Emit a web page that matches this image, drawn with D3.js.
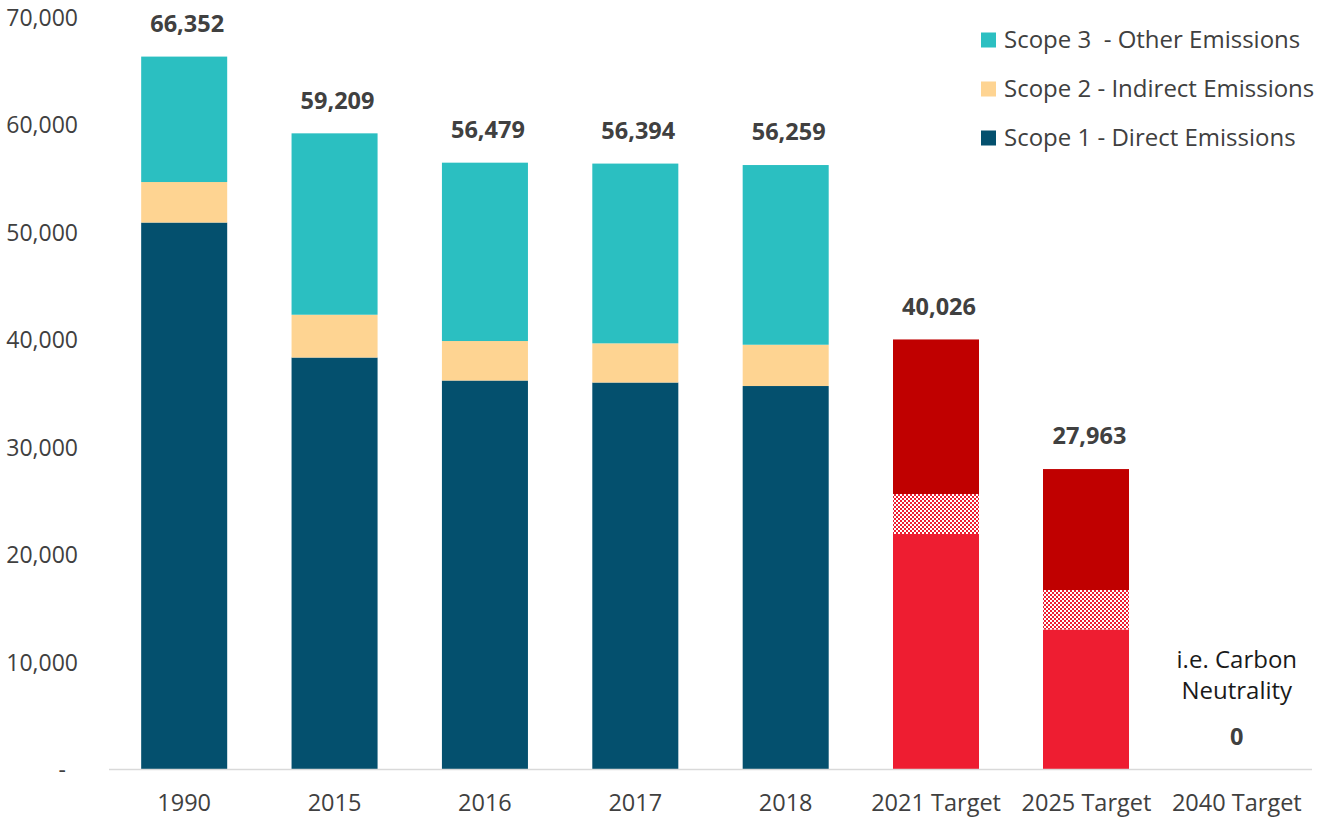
<!DOCTYPE html>
<html>
<head>
<meta charset="utf-8">
<script src="https://cdn.jsdelivr.net/npm/d3@7"></script>
<style>
  html, body { margin: 0; padding: 0; background: #ffffff; }
  svg { display: block; }
  text { font-family: "Open Sans", "Noto Sans", sans-serif; }
</style>
</head>
<body>
<svg id="chart" width="1321" height="819"></svg>
<script>
// ---------- data ----------
const categories = ["1990", "2015", "2016", "2017", "2018", "2021 Target", "2025 Target", "2040 Target"];
const actualCategories = ["1990", "2015", "2016", "2017", "2018"];
const scope1 = [50907, 38343, 36203, 36017, 35691];
const scope2 = [3770, 3984, 3676, 3648, 3844];
const scope3 = [11675, 16882, 16600, 16729, 16724];

const targetCategories = ["2021 Target", "2025 Target", "2040 Target"];
const targetBase = [21917, 13029, 0];
const targetHatched = [3723, 3676, 0];
const targetTop = [14386, 11258, 0];

const totals = [66352, 59209, 56479, 56394, 56259, 40026, 27963, 0];
const totalLabels = ["66,352", "59,209", "56,479", "56,394", "56,259", "40,026", "27,963", "0"];

const yTicks = [0, 10000, 20000, 30000, 40000, 50000, 60000, 70000];
const legendLabels = ["Scope 3  - Other Emissions", "Scope 2 - Indirect Emissions", "Scope 1 - Direct Emissions"];
const noteLines = ["i.e. Carbon", "Neutrality"];

// ---------- styles ----------
const colors = {
  scope1: "#04506e",
  scope2: "#fed492",
  scope3: "#2bbfc1",
  base: "#ee1d31",
  top: "#c00000",
  text: "#404040",
  axis: "#d9d9d9"
};

const svg = d3.select("#chart");

const x = d3.scaleBand()
  .domain(categories)
  .range([109, 1312])
  .paddingInner(0.428)
  .paddingOuter(0.214);

const y = d3.scaleLinear()
  .domain([0, 70000])
  .range([769.5, 17.4]);

// checker pattern
const defs = svg.append("defs");
const pat = defs.append("pattern")
  .attr("id", "checker")
  .attr("patternUnits", "userSpaceOnUse")
  .attr("width", 4).attr("height", 4);
pat.append("rect").attr("width", 4).attr("height", 4).attr("fill", "#ffffff");
pat.append("rect").attr("x", 0).attr("y", 0).attr("width", 2).attr("height", 2).attr("fill", colors.base);
pat.append("rect").attr("x", 2).attr("y", 2).attr("width", 2).attr("height", 2).attr("fill", colors.base);

// y axis labels
const yAxis = d3.axisLeft(y)
  .tickValues(yTicks)
  .tickSize(0)
  .tickPadding(0)
  .tickFormat(v => v === 0 ? "-" : d3.format(",")(v));
const yg = svg.append("g").attr("transform", "translate(78,0)").call(yAxis);
yg.select(".domain").remove();
yg.selectAll("text")
  .attr("fill", colors.text)
  .style("font-size", "23px")
  .attr("dy", "0.35em")
  .attr("dx", v => v === 0 ? -12 : 0);

// stacked actual bars
const actualStack = actualCategories.map((c, i) => ({ c, s1: scope1[i], s2: scope2[i], s3: scope3[i] }));
const stackA = d3.stack().keys(["s1", "s2", "s3"])(actualStack);
const keyColor = { s1: colors.scope1, s2: colors.scope2, s3: colors.scope3 };
svg.append("g").selectAll("g").data(stackA).join("g")
  .attr("fill", d => keyColor[d.key])
  .selectAll("rect").data(d => d).join("rect")
  .attr("x", d => x(d.data.c))
  .attr("width", x.bandwidth())
  .attr("y", d => y(d[1]))
  .attr("height", d => y(d[0]) - y(d[1]));

// stacked target bars
const targetStack = targetCategories.map((c, i) => ({ c, b: targetBase[i], h: targetHatched[i], t: targetTop[i] }));
const stackT = d3.stack().keys(["b", "h", "t"])(targetStack);
const keyFill = { b: colors.base, h: "url(#checker)", t: colors.top };
svg.append("g").selectAll("g").data(stackT).join("g")
  .attr("fill", d => keyFill[d.key])
  .selectAll("rect").data(d => d.filter(p => p[1] > p[0])).join("rect")
  .attr("x", d => Math.round(x(d.data.c)))
  .attr("width", Math.round(x.bandwidth()))
  .attr("y", d => y(d[1]))
  .attr("height", d => y(d[0]) - y(d[1]));

// baseline
svg.append("line")
  .attr("x1", 109).attr("x2", 1312)
  .attr("y1", y(0)).attr("y2", y(0))
  .attr("stroke", colors.axis).attr("stroke-width", 1.5);

// x axis labels
const xAxis = d3.axisBottom(x).tickSize(0).tickPadding(0);
const xg = svg.append("g").attr("transform", "translate(0,803)").call(xAxis);
xg.select(".domain").remove();
xg.selectAll("text")
  .attr("fill", colors.text)
  .style("font-size", "23.5px")
  .attr("dy", "0.35em")
  .attr("y", 0);

// total labels
svg.append("g").selectAll("text").data(categories).join("text")
  .attr("x", c => x(c) + x.bandwidth() / 2)
  .attr("y", (c, i) => y(totals[i]) - 33)
  .attr("dx", (c, i) => totals[i] === 0 ? 0 : 3)
  .attr("dy", "0.35em")
  .attr("text-anchor", "middle")
  .attr("fill", colors.text)
  .style("font-size", "23.5px")
  .style("font-weight", "700")
  .text((c, i) => totalLabels[i]);

// note text
svg.append("g").selectAll("text").data(noteLines).join("text")
  .attr("x", x("2040 Target") + x.bandwidth() / 2)
  .attr("y", (d, i) => 660 + i * 31)
  .attr("dy", "0.35em")
  .attr("text-anchor", "middle")
  .attr("fill", "#1a1a1a")
  .style("font-size", "24px")
  .text(d => d);

// legend
const legendColors = [colors.scope3, colors.scope2, colors.scope1];
const lg = svg.append("g").selectAll("g").data(legendLabels).join("g")
  .attr("transform", (d, i) => `translate(981,${40 + i * 49})`);
lg.append("rect").attr("x", 0).attr("y", -7.5).attr("width", 15).attr("height", 15)
  .attr("fill", (d, i) => legendColors[i]);
lg.append("text").attr("x", 23).attr("y", 0).attr("dy", "0.35em")
  .attr("fill", colors.text)
  .style("font-size", "24px")
  .style("white-space", "pre")
  .text(d => d);
</script>
</body>
</html>
